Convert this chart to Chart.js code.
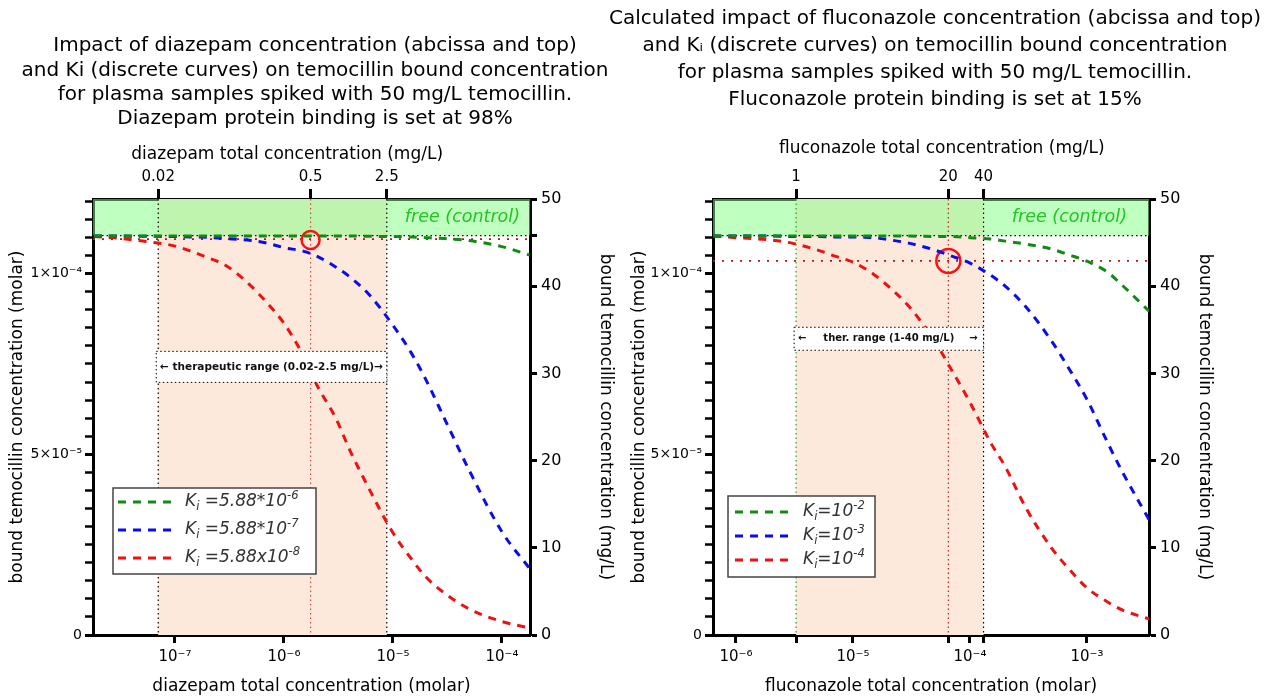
<!DOCTYPE html>
<html lang="en">
<head>
<meta charset="UTF-8" />
<title>Temocillin bound concentration</title>
<script src="https://cdn.jsdelivr.net/npm/chart.js"></script>
<style>
  body { margin: 0; background: #fff; width: 1276px; height: 700px; position: relative; overflow: hidden; }
  .panel { position: absolute; top: 0; height: 700px; }
  #leftPanel { left: 0; width: 630px; }
  #rightPanel { left: 594px; width: 682px; }
</style>
</head>
<body>
<div class="panel" id="leftPanel"><canvas id="diazChart"></canvas></div>
<div class="panel" id="rightPanel"><canvas id="flucChart"></canvas></div>

<script>
  // molecular weights (g/mol)
  const TEMO_MW = 414.45;
  const DIAZ_MW = 284.74;
  const FLUC_MW = 306.27;

  // ---- diazepam panel: total diazepam (molar) vs bound temocillin (mg/L) ----
  const diazX = [1.8e-8, 3e-8, 6e-8, 1e-7, 2e-7, 3e-7, 5e-7, 7e-7, 1e-6, 1.5e-6, 2e-6,
                 3e-6, 4e-6, 6e-6, 1e-5, 1.5e-5, 2e-5, 3e-5, 5e-5, 1e-4, 1.8e-4];
  const diazGreen = [45.75, 45.75, 45.75, 45.75, 45.75, 45.75, 45.75, 45.75, 45.75, 45.75, 45.75,
                     45.75, 45.75, 45.72, 45.69, 45.63, 45.57, 45.46, 45.23, 44.54, 43.56];
  const diazBlue = [45.75, 45.75, 45.72, 45.69, 45.6, 45.46, 45.23, 44.94, 44.42, 44.02, 43.45,
                    42.18, 41.09, 39.08, 35.52, 32.18, 29.31, 24.71, 18.9, 11.84, 7.6];
  const diazRed = [45.69, 45.5, 45.06, 44.6, 43.27, 42.3, 40.0, 38.09, 35.75, 32.07, 28.7,
                   24.83, 21.26, 16.84, 11.72, 8.62, 6.67, 4.77, 2.99, 1.55, 0.8];
  const diazKiText = [' =5.88*10', ' =5.88*10', ' =5.88x10'];
  const diazKiExp = ['-6', '-7', '-8'];
  const diazTopMg = [0.02, 0.5, 2.5];
  const diazTopLabels = ['0.02', '0.5', '2.5'];
  const diazRange = [0.02, 2.5];
  const diazBottomTicks = [1e-7, 1e-6, 1e-5, 1e-4];
  const diazBottomLabels = ['10\u207B\u2077', '10\u207B\u2076', '10\u207B\u2075', '10\u207B\u2074'];
  const diazFree = 45.8;
  const diazLevel = 45.4;
  const diazMarker = [0.5, 45.3];

  // ---- fluconazole panel ----
  const flucX = [6.4e-7, 1e-6, 2e-6, 3e-6, 5e-6, 7e-6, 1e-5, 1.5e-5, 2e-5, 3e-5, 5e-5,
                 7e-5, 1e-4, 1.5e-4, 2e-4, 3e-4, 5e-4, 7e-4, 1e-3, 1.5e-3, 2e-3, 3.4e-3];
  const flucGreen = [45.75, 45.75, 45.75, 45.75, 45.75, 45.75, 45.75, 45.75, 45.75, 45.75, 45.69,
                     45.69, 45.57, 45.4, 45.17, 44.83, 44.25, 43.6, 42.87, 41.6, 40.11, 37.13];
  const flucBlue = [45.75, 45.75, 45.75, 45.69, 45.69, 45.63, 45.63, 45.57, 45.34, 44.94, 44.14,
                    43.45, 42.64, 41.26, 40.0, 37.64, 33.68, 30.57, 27.01, 22.07, 18.74, 13.22];
  const flucRed = [45.75, 45.57, 45.29, 44.94, 44.14, 43.45, 42.76, 41.38, 40.0, 37.7, 33.68,
                   30.34, 26.67, 22.07, 19.31, 14.6, 9.94, 7.59, 5.4, 3.79, 2.87, 1.84];
  const flucKiText = ['=10', '=10', '=10'];
  const flucKiExp = ['-2', '-3', '-4'];
  const flucTopMg = [1, 20, 40];
  const flucTopLabels = ['1', '20', '40'];
  const flucRange = [1, 40];
  const flucBottomTicks = [1e-6, 1e-5, 1e-4, 1e-3];
  const flucBottomLabels = ['10\u207B\u2076', '10\u207B\u2075', '10\u207B\u2074', '10\u207B\u00B3'];
  const flucFree = 45.8;
  const flucLevel = 42.9;
  const flucMarker = [20, 42.9];

  // shared axis labels
  const molarLabels = ['0', '5\u00D710\u207B\u2075', '1\u00D710\u207B\u2074'];
  const mgTicks = [0, 10, 20, 30, 40, 50];

  const curveColors = ['#138a13', '#0b0bf0', '#f01010'];
  const FONT = "'DejaVu Sans', sans-serif";
  Chart.defaults.font.family = FONT;
  Chart.defaults.color = '#000';

  const molar = (mg, mw) => mg / mw / 1000;

  function richText(ctx, parts, x, y, size) {
    let cx = x;
    parts.forEach(([t, kind]) => {
      const s = kind ? size * 0.68 : size;
      const dy = kind === 'sub' ? size * 0.3 : kind === 'sup' ? -size * 0.38 : 0;
      ctx.font = `italic ${s}px ${FONT}`;
      ctx.fillText(t, cx, y + dy);
      cx += ctx.measureText(t).width;
    });
  }

  function hLine(ctx, x0, x1, y) { ctx.beginPath(); ctx.moveTo(x0, y); ctx.lineTo(x1, y); ctx.stroke(); }
  function vLine(ctx, x, y0, y1) { ctx.beginPath(); ctx.moveTo(x, y0); ctx.lineTo(x, y1); ctx.stroke(); }

  function decorPlugin(c) {
    return {
      id: 'decor',
      beforeDatasetsDraw(chart) {
        const { ctx, chartArea: a, scales: { x, y2 } } = chart;
        const rx0 = x.getPixelForValue(molar(c.range[0], c.mw));
        const rx1 = x.getPixelForValue(molar(c.range[1], c.mw));
        const yFree = y2.getPixelForValue(c.free);
        const yLevel = y2.getPixelForValue(c.level);
        ctx.save();
        ctx.beginPath(); ctx.rect(a.left, a.top, a.width, a.height); ctx.clip();
        ctx.fillStyle = '#fde9dc';
        ctx.fillRect(rx0, a.top, rx1 - rx0, a.height);
        ctx.fillStyle = 'rgba(128,255,128,0.5)';
        ctx.fillRect(a.left, a.top, a.width, yFree - a.top);

        ctx.lineWidth = 1.2;
        ctx.setLineDash([1.5, 3]);
        c.topMg.forEach((mg, i) => {
          ctx.strokeStyle = c.vColors[i];
          vLine(ctx, x.getPixelForValue(molar(mg, c.mw)), a.top, a.bottom);
        });
        ctx.strokeStyle = '#000';
        hLine(ctx, a.left, a.right, yFree);
        ctx.strokeStyle = '#b01818';
        ctx.lineWidth = 1.6;
        ctx.setLineDash([2, 7]);
        hLine(ctx, a.left, a.right, yLevel);

        ctx.setLineDash([]);
        ctx.fillStyle = '#22c522';
        ctx.font = `italic 17.5px ${FONT}`;
        ctx.textAlign = 'right';
        ctx.textBaseline = 'middle';
        ctx.fillText('free (control)', a.right - c.freeDx, (a.top + yFree) / 2);
        ctx.restore();
      },
      afterDatasetsDraw(chart) {
        const { ctx, chartArea: a, scales: { x, y2 } } = chart;
        ctx.save();
        // therapeutic range box
        const bx0 = x.getPixelForValue(molar(c.range[0], c.mw)) - 2;
        const bx1 = x.getPixelForValue(molar(c.range[1], c.mw));
        const by = y2.getPixelForValue(c.boxLevel);
        ctx.fillStyle = '#fff';
        ctx.fillRect(bx0, by - c.boxH / 2, bx1 - bx0, c.boxH);
        ctx.strokeStyle = '#000';
        ctx.lineWidth = 1;
        ctx.setLineDash([1.5, 2.5]);
        ctx.strokeRect(bx0, by - c.boxH / 2, bx1 - bx0, c.boxH);
        ctx.setLineDash([]);
        ctx.fillStyle = '#111';
        ctx.font = `bold ${c.boxFont}px ${FONT}`;
        ctx.textBaseline = 'middle';
        ctx.textAlign = 'center';
        ctx.fillText(c.boxText, (bx0 + bx1) / 2, by);
        if (c.boxArrows) {
          ctx.textAlign = 'left';
          ctx.fillText('\u2190', bx0 + 4, by);
          ctx.textAlign = 'right';
          ctx.fillText('\u2192', bx1 - 6, by);
        }

        // legend
        const L = c.legend;
        const lx = a.left + L.dx, ly = a.top + L.dy;
        ctx.fillStyle = '#fff';
        ctx.fillRect(lx, ly, L.w, L.h);
        ctx.strokeStyle = '#444';
        ctx.lineWidth = 1.5;
        ctx.strokeRect(lx, ly, L.w, L.h);
        ctx.textAlign = 'left';
        chart.data.datasets.slice(0, 3).forEach((ds, k) => {
          const ry = ly + L.first + k * L.step;
          ctx.strokeStyle = ds.borderColor;
          ctx.lineWidth = 3;
          ctx.setLineDash(ds.borderDash);
          hLine(ctx, lx + L.l0, lx + L.l1, ry);
          ctx.setLineDash([]);
          ctx.fillStyle = '#333';
          richText(ctx, [['K', ''], ['i', 'sub'], [c.kiText[k], ''], [c.kiExp[k], 'sup']], lx + L.tx, ry, 17);
        });
        ctx.restore();
      }
    };
  }

  function axisGrid(len) {
    return { drawOnChartArea: false, drawTicks: true, tickLength: len, tickWidth: 3, tickColor: '#000' };
  }
  const axisBorder = { display: true, color: '#000', width: 3 };

  function makeChart(id, c) {
    const series = [c.green, c.blue, c.red];
    const datasets = series.map((ys, k) => ({
      type: 'line',
      label: 'Ki' + c.kiText[k] + c.kiExp[k],
      data: c.xs.map((xv, i) => ({ x: xv, y: ys[i] })),
      borderColor: curveColors[k],
      borderWidth: 3,
      borderDash: [8, 7],
      pointRadius: 0,
      cubicInterpolationMode: 'monotone',
      fill: false,
      xAxisID: 'x',
      yAxisID: 'y2'
    }));
    datasets.push({
      type: 'scatter',
      data: [{ x: molar(c.marker[0], c.mw), y: c.marker[1] }],
      showLine: false,
      pointStyle: 'circle',
      pointRadius: c.markerR,
      borderColor: '#ff1010',
      pointBorderColor: '#ff1010',
      borderWidth: 2.5,
      pointBorderWidth: 2.5,
      backgroundColor: 'rgba(0,0,0,0)',
      pointBackgroundColor: 'rgba(0,0,0,0)',
      xAxisID: 'x',
      yAxisID: 'y2'
    });

    return new Chart(document.getElementById(id), {
      type: 'line',
      data: { datasets },
      options: {
        responsive: true,
        maintainAspectRatio: false,
        animation: false,
        layout: { padding: 0 },
        plugins: {
          legend: { display: false },
          tooltip: { enabled: false },
          title: {
            display: true,
            text: c.title,
            color: '#000',
            font: { size: 20, weight: 'normal', lineHeight: c.titleLH },
            padding: { top: c.titleTop, bottom: 0 }
          }
        },
        scales: {
          x: {
            type: 'logarithmic', position: 'bottom', min: c.xMin, max: c.xMax,
            afterBuildTicks: s => { s.ticks = c.bottomTicks.concat(c.extraBottom).map(v => ({ value: v })); },
            afterFit: s => { s.height = 65; },
            ticks: {
              autoSkip: false, maxRotation: 0, minRotation: 0, padding: 5, font: { size: 15 },
              callback: v => { const i = c.bottomTicks.indexOf(v); return i >= 0 ? c.bottomLabels[i] : ''; }
            },
            grid: axisGrid(8),
            border: axisBorder,
            title: { display: true, text: c.xTitle, font: { size: 17 }, padding: { top: 0, bottom: 3 } }
          },
          x2: {
            type: 'logarithmic', position: 'top', min: c.xMin, max: c.xMax,
            afterBuildTicks: s => { s.ticks = c.topMg.map(mg => ({ value: molar(mg, c.mw) })); },
            afterFit: s => { s.height = c.topH; },
            ticks: {
              autoSkip: false, maxRotation: 0, minRotation: 0, padding: 3, font: { size: 15 },
              callback: (v, i) => c.topLabels[i]
            },
            grid: axisGrid(10),
            border: axisBorder,
            title: { display: true, text: c.topTitle, font: { size: 17 }, padding: { top: c.topTitlePad, bottom: 0 } }
          },
          y: {
            type: 'linear', position: 'left', min: 0, max: molar(50, TEMO_MW),
            afterBuildTicks: s => { s.ticks = Array.from({ length: 25 }, (_, i) => ({ value: i * 5e-6 })); },
            afterFit: s => { s.width = c.leftW; },
            ticks: {
              autoSkip: false, padding: 3, font: { size: 14 },
              callback: (v, i) => (i % 10 === 0 ? molarLabels[i / 10] : '')
            },
            grid: { drawOnChartArea: false, tickLength: 8, tickColor: '#000',
                    tickWidth: ctx => (ctx.index % 10 === 0 ? 3 : 2.5) },
            border: axisBorder,
            title: { display: true, text: 'bound temocillin concentration (molar)',
                     font: { size: 17, lineHeight: 1 }, padding: { top: c.leftTitlePad, bottom: 0 } }
          },
          y2: {
            type: 'linear', position: 'right', min: 0, max: 50,
            afterBuildTicks: s => { s.ticks = mgTicks.concat(c.extraRight).map(v => ({ value: v })); },
            afterFit: s => { s.width = c.rightW; },
            ticks: {
              autoSkip: false, padding: 4, font: { size: 16 },
              callback: v => (mgTicks.includes(v) ? String(v) : '')
            },
            grid: axisGrid(7),
            border: axisBorder,
            title: { display: true, text: 'bound temocillin concentration (mg/L)',
                     font: { size: 17, lineHeight: 1 }, padding: { top: c.rightTitlePad, bottom: 0 } }
          }
        }
      },
      plugins: [decorPlugin(c)]
    });
  }

  makeChart('diazChart', {
    mw: DIAZ_MW, xs: diazX, green: diazGreen, blue: diazBlue, red: diazRed,
    kiText: diazKiText, kiExp: diazKiExp,
    topMg: diazTopMg, topLabels: diazTopLabels, range: diazRange,
    bottomTicks: diazBottomTicks, bottomLabels: diazBottomLabels, extraBottom: [],
    extraRight: [diazFree],
    free: diazFree, level: diazLevel, marker: diazMarker, markerR: 9,
    xMin: 1.77e-8, xMax: 1.81e-4,
    vColors: ['#000', '#d04848', '#000'],
    freeDx: 10,
    boxLevel: 30.75, boxH: 31, boxFont: 10.5,
    boxText: '\u2190 therapeutic range (0.02-2.5 mg/L)\u2192', boxArrows: false,
    legend: { dx: 20, dy: 289, w: 203, h: 86, first: 14, step: 28, l0: 5, l1: 59, tx: 72 },
    title: ['Impact of diazepam concentration (abcissa and top)',
            'and Ki (discrete curves) on temocillin bound concentration',
            'for plasma samples spiked with 50 mg/L temocillin.',
            'Diazepam protein binding is set at 98%'],
    titleLH: 1.215, titleTop: 34, topH: 199 - 131.2,
    topTitle: 'diazepam total concentration (mg/L)' + '\u00A0'.repeat(9), topTitlePad: 13.6,
    xTitle: 'diazepam total concentration (molar)',
    leftW: 93, rightW: 100, leftTitlePad: 9.5, rightTitlePad: 16.5
  });

  makeChart('flucChart', {
    mw: FLUC_MW, xs: flucX, green: flucGreen, blue: flucBlue, red: flucRed,
    kiText: flucKiText, kiExp: flucKiExp,
    topMg: flucTopMg, topLabels: flucTopLabels, range: flucRange,
    bottomTicks: flucBottomTicks, bottomLabels: flucBottomLabels,
    extraBottom: flucTopMg.map(mg => molar(mg, FLUC_MW)),
    extraRight: [],
    free: flucFree, level: flucLevel, marker: flucMarker, markerR: 12,
    xMin: 6.36e-7, xMax: 3.39e-3,
    vColors: ['#2a9a2a', '#c02020', '#000'],
    freeDx: 22,
    boxLevel: 33.97, boxH: 23, boxFont: 10,
    boxText: 'ther. range (1-40 mg/L)', boxArrows: true,
    legend: { dx: 15, dy: 297, w: 147, h: 81, first: 16, step: 24, l0: 7, l1: 60, tx: 75 },
    title: ['Calculated impact of fluconazole concentration (abcissa and top)',
            'and K\u1D62 (discrete curves) on temocillin bound concentration',
            'for plasma samples spiked with 50 mg/L temocillin.',
            'Fluconazole protein binding is set at 15%'],
    titleLH: 1.35, titleTop: 5, topH: 199 - 113,
    topTitle: '\u00A0'.repeat(4) + 'fluconazole total concentration (mg/L)', topTitlePad: 25.8,
    xTitle: 'fluconazole total concentration (molar)',
    leftW: 119, rightW: 127, leftTitlePad: 37, rightTitlePad: 63.5
  });
</script>
</body>
</html>
